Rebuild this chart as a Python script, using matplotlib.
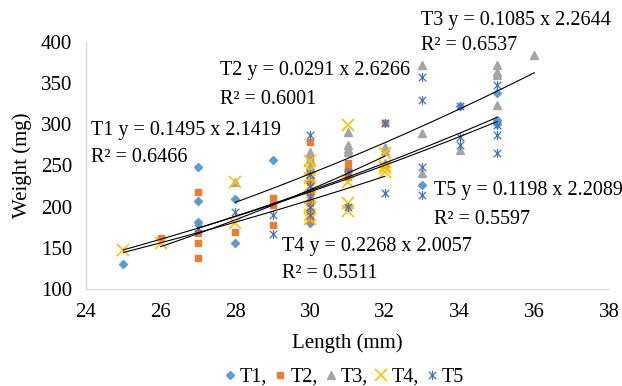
import numpy as np
import matplotlib
matplotlib.use("Agg")
import matplotlib.pyplot as plt
from matplotlib.path import Path

plt.rcParams['font.family'] = ['Liberation Serif', 'DejaVu Serif']

# ---- data ----
t1_x = [25, 27, 27, 27, 28, 28, 29, 30, 30, 30, 30, 31, 31, 33, 34, 35, 35, 35]
t1_y = [130, 248, 207, 181, 209, 156, 257, 180, 195, 215, 235, 200, 243, 226, 322, 338, 305, 300]

t2_x = [26, 27, 27, 27, 27, 28, 29, 29, 29, 30, 30, 30, 30, 30, 30, 30, 30, 31, 31, 31, 31, 32]
t2_y = [162, 218, 168, 156, 138, 169, 210, 202, 178, 278, 260, 245, 230, 215, 205, 195, 185, 253, 247, 240, 236, 302]

t3_x = [28, 30, 30, 30, 31, 31, 31, 31, 32, 32, 32, 33, 33, 33, 34, 35, 35, 35, 35, 36]
t3_y = [230, 266, 258, 250, 291, 275, 266, 270, 273, 268, 253, 372, 290, 241, 269, 372, 364, 360, 324, 384]

t4_x = [25, 26, 28, 28, 30, 30, 30, 30, 30, 30, 30, 30, 31, 31, 31, 31, 32, 32, 32, 32]
t4_y = [147, 156, 230, 180, 255, 245, 235, 225, 210, 200, 190, 185, 299, 230, 205, 195, 265, 250, 247, 242]

t5_x = [27, 28, 29, 29, 30, 30, 30, 30, 30, 30, 31, 31, 32, 32, 33, 33, 33, 33, 34, 34, 34, 35, 35, 35, 35]
t5_y = [174, 193, 190, 167, 287, 240, 225, 212, 200, 190, 242, 200, 302, 217, 358, 330, 248, 214, 322, 285, 275, 348, 299, 287, 265]

# power trendline coefficients y = a * x^b, and x-range of each fit
series_names = ["T1", "T2", "T3", "T4", "T5"]
fit_a = [0.1495, 0.0291, 0.1085, 0.2268, 0.1198]
fit_b = [2.1419, 2.6266, 2.2644, 2.0057, 2.2089]
fit_r2 = ["0.6466", "0.6001", "0.6537", "0.5511", "0.5597"]
fit_lo = [25, 26, 28, 25, 27]
fit_hi = [35, 32, 36, 32, 35]

x_ticks = [24, 26, 28, 30, 32, 34, 36, 38]
y_ticks = [100, 150, 200, 250, 300, 350, 400]

# ---- figure ----
W, H = 622, 386
FS = 15
FSE = 14.5
fig = plt.figure(figsize=(W / 100, H / 100), dpi=100)
ax = fig.add_axes([86 / W, 1 - 289 / H, (609 - 86) / W, (289 - 42) / H])

star = Path([(-1, -1), (1, 1), (-1, 1), (1, -1), (0, -1.2), (0, 1.2)],
            [Path.MOVETO, Path.LINETO, Path.MOVETO, Path.LINETO, Path.MOVETO, Path.LINETO])

c1, c2, c3, c4, c5 = "#5B9BD5", "#ED7D31", "#A5A5A5", "#FFC000", "#4472C4"

ax.plot(t1_x, t1_y, ls="none", marker="D", ms=4.5, color=c1, mec=c1, label="T1,", zorder=3)
ax.plot(t2_x, t2_y, ls="none", marker="s", ms=5, color=c2, mec=c2, label="T2,", zorder=3)
ax.plot(t3_x, t3_y, ls="none", marker="^", ms=6, color=c3, mec=c3, label="T3,", zorder=3)
ax.plot(t4_x, t4_y, ls="none", marker="x", ms=8.5, mew=1.2, color=c4, label="T4,", zorder=3)
ax.plot(t5_x, t5_y, ls="none", marker=star, ms=6.5, mew=0.9, mfc="none", color=c5, label="T5", zorder=3)

for a, b, lo, hi in zip(fit_a, fit_b, fit_lo, fit_hi):
    xs = np.linspace(lo, hi, 100)
    ax.plot(xs, a * xs ** b, color="black", lw=0.8, zorder=4)

ax.set_xlim(24, 38)
ax.set_ylim(100, 400)
ax.set_xticks(x_ticks)
ax.set_yticks(y_ticks)
ax.tick_params(axis="y", length=0, labelsize=FS, pad=10)
ax.tick_params(axis="x", length=0, labelsize=FS, pad=10)
for s in ["top", "right"]:
    ax.spines[s].set_visible(False)
for s in ["left", "bottom"]:
    ax.spines[s].set_color("#D9D9D9")
    ax.spines[s].set_linewidth(1)

ax.set_xlabel("Length (mm)", fontsize=FS, labelpad=8)
ax.set_ylabel("Weight (mg)", fontsize=FS, labelpad=6)

# equation labels (pixel positions -> figure fraction)
label_pos = {"T1": (91, 130, 157), "T2": (220, 70, 100), "T3": (421, 20, 46),
             "T4": (282, 247, 274), "T5": (434, 191, 219)}
for name, a, b, r2 in zip(series_names, fit_a, fit_b, fit_r2):
    px, py1, py2 = label_pos[name]
    fig.text(px / W, 1 - py1 / H, f"{name} y = {a:.4f} x {b:.4f}", fontsize=FSE,
             ha="left", va="center")
    fig.text(px / W, 1 - py2 / H, f"R\u00b2 = {r2}", fontsize=FSE, ha="left", va="center")

fig.legend(loc="center", bbox_to_anchor=(344 / W, 1 - 377 / H), ncol=5, frameon=False,
           fontsize=14.5, handlelength=0.6, handletextpad=0.2, columnspacing=0.35,
           borderaxespad=0, borderpad=0)

fig.savefig("out.png", dpi=100)
